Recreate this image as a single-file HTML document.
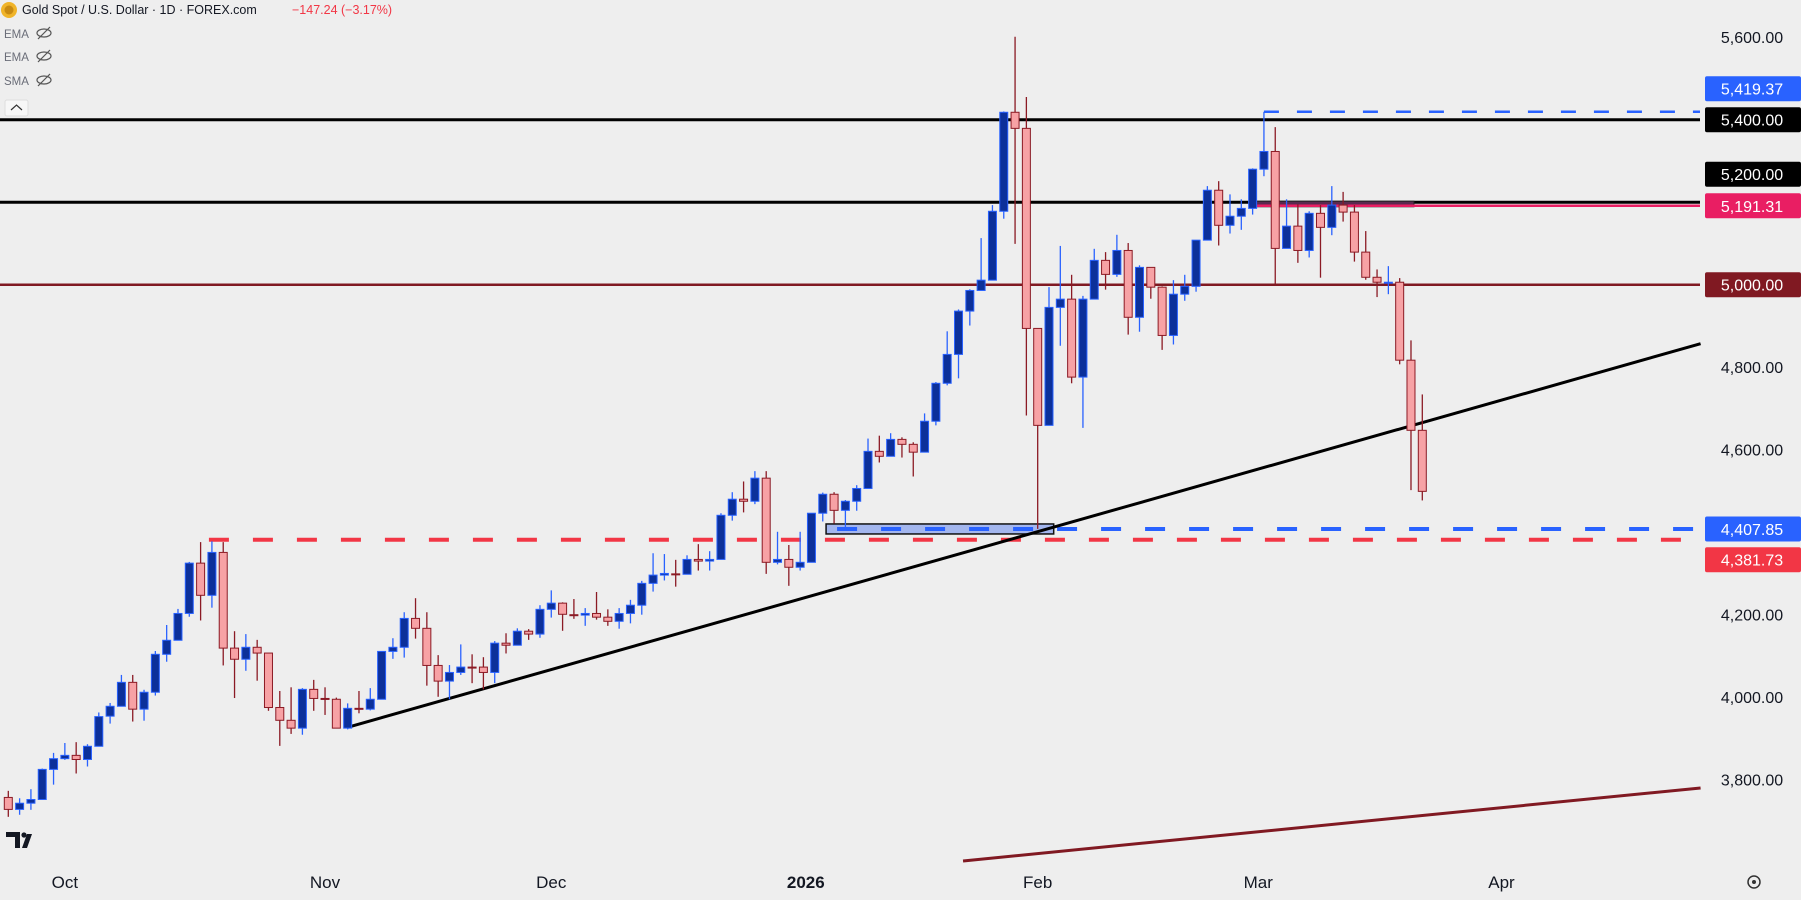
<!DOCTYPE html>
<html><head><meta charset="utf-8"><style>
html,body{margin:0;padding:0;background:#eeeeee;}
svg{display:block;font-family:"Liberation Sans",sans-serif;}
</style></head><body>
<svg id="chart" width="1801" height="900" viewBox="0 0 1801 900" xmlns="http://www.w3.org/2000/svg">
<rect x="0" y="0" width="1801" height="900" fill="#eeeeee"/>
<g id="levels"></g>
<g id="candles"></g>
<g id="axis"></g>
<g>
  <circle cx="9" cy="10" r="8" fill="#f0b429"/>
  <circle cx="9" cy="10" r="4.5" fill="#c88a12"/>
  <text x="22" y="14" font-size="12.5" fill="#131722">Gold Spot / U.S. Dollar · 1D · FOREX.com</text>
  <text x="292" y="14" font-size="12.5" fill="#f23645">−147.24 (−3.17%)</text>
  <text x="4" y="38" font-size="11.5" fill="#6a6d78">EMA</text>
  <text x="4" y="61" font-size="11.5" fill="#6a6d78">EMA</text>
  <text x="4" y="85" font-size="11.5" fill="#6a6d78">SMA</text>
  <g fill="none" stroke="#555" stroke-width="1.2">
    <g><ellipse cx="44" cy="33" rx="7" ry="4"/><line x1="38" y1="39" x2="50" y2="27"/></g>
    <g><ellipse cx="44" cy="56" rx="7" ry="4"/><line x1="38" y1="62" x2="50" y2="50"/></g>
    <g><ellipse cx="44" cy="80" rx="7" ry="4"/><line x1="38" y1="86" x2="50" y2="74"/></g>
  </g>
  <rect x="5" y="100" width="23" height="16" rx="2" fill="#f7f7f7" stroke="#ddd"/>
  <path d="M11 110 L16.5 105 L22 110" fill="none" stroke="#333" stroke-width="1.2"/>
</g>
<g>
  <path d="M6 832 H20 V848 H15 V837 H6 Z" fill="#131722"/>
  <circle cx="24" cy="835" r="2.6" fill="#131722"/>
  <path d="M22 848 L27 834 H32 L27 848 Z" fill="#131722"/>
</g>
<g>
  <circle cx="1754" cy="882" r="6" fill="none" stroke="#333" stroke-width="1.5"/>
  <circle cx="1754" cy="882" r="2" fill="#333"/>
</g>
</svg>
<script>
const opens=[3757,3728,3743,3752,3825,3851,3859,3849,3881,3954,3978,4036,3971,4012,4104,4138,4203,4325,4247,4351,4119,4092,4121,4107,3975,3944,3925,4019,3997,3995,3925,3973,3971,3995,4111,4121,4191,4167,4077,4039,4060,4073,4073,4060,4131,4126,4160,4153,4213,4228,4200,4199,4203,4194,4184,4203,4223,4276,4296,4299,4298,4334,4330,4334,4441,4480,4475,4531,4327,4334,4315,4327,4446,4492,4453,4475,4506,4596,4584,4625,4613,4594,4669,4761,4831,4936,4986,5011,5178,5418,5379,4894,4659,4945,4965,4776,4965,5059,5025,5083,4921,5042,4994,4877,4977,4996,5108,5229,5144,5166,5185,5280,5323,5088,5142,5083,5173,5139,5193,5176,5079,5018,5005,5006,4817,4647];
const highs=[3773,3755,3777,3827,3865,3889,3891,3886,3963,3986,4054,4054,4018,4112,4175,4214,4328,4376,4378,4376,4160,4153,4139,4107,4015,4024,4022,4042,4024,3999,3985,4015,4022,4111,4143,4206,4240,4206,4102,4078,4128,4104,4097,4136,4155,4167,4165,4223,4259,4230,4238,4216,4255,4213,4216,4236,4282,4349,4347,4333,4344,4371,4354,4446,4497,4523,4548,4548,4401,4369,4401,4446,4496,4497,4478,4514,4627,4634,4640,4630,4618,4688,4764,4887,4940,4989,5113,5193,5420,5601,5455,4894,4994,5094,5024,4973,5087,5079,5121,5101,5047,5042,4996,5011,5024,5108,5239,5251,5219,5207,5282,5419,5382,5207,5195,5178,5193,5239,5225,5193,5130,5037,5045,5016,4865,4734];
const lows=[3710,3715,3727,3752,3788,3848,3815,3832,3881,3936,3978,3941,3943,4004,4086,4138,4195,4186,4217,4077,3998,4064,4040,3967,3882,3911,3909,3967,3957,3925,3922,3961,3968,3995,4093,4096,4142,4028,4001,3995,4054,4034,4019,4034,4106,4126,4139,4144,4193,4161,4190,4173,4188,4173,4166,4179,4200,4256,4283,4268,4298,4307,4307,4334,4428,4448,4468,4299,4322,4270,4307,4327,4426,4421,4405,4452,4506,4569,4584,4581,4535,4594,4659,4756,4773,4901,4986,5011,5160,5099,4683,4408,4659,4852,4761,4653,4965,4988,5019,4879,4886,4966,4842,4855,4961,4983,5108,5095,5124,5133,5170,5263,5002,5088,5053,5066,5017,5120,5153,5056,5012,4970,4977,4807,4502,4477];
const closes=[3728,3743,3752,3825,3851,3859,3849,3881,3953,3978,4036,3971,4012,4104,4138,4203,4325,4247,4351,4119,4092,4121,4107,3975,3944,3925,4019,3997,3996,3925,3973,3971,3995,4111,4121,4191,4167,4077,4039,4060,4073,4072,4060,4131,4126,4160,4153,4213,4228,4201,4199,4203,4194,4184,4203,4223,4276,4296,4300,4298,4334,4330,4334,4441,4480,4475,4531,4327,4334,4315,4327,4446,4492,4453,4475,4506,4596,4584,4625,4613,4594,4669,4761,4831,4936,4986,5011,5178,5418,5379,4894,4659,4945,4965,4776,4965,5059,5025,5083,4921,5042,4994,4877,4977,4996,5108,5229,5144,5166,5185,5280,5323,5088,5142,5083,5173,5139,5193,5176,5079,5018,5006,5006,4817,4647,4499];
const priceTicks=[5600,5400,5200,5000,4800,4600,4400,4200,4000,3800];
const monthLabels=["Oct","Nov","Dec","2026","Feb","Mar","Apr"];
const monthIndex=[5,28,48,70.5,91,110.5,132];
const hLevels=[5400,5200,5000];
const hLevelColors=["#000000","#000000","#801922"];
const tagPrices=[5419.37,5400,5200,5191.31,5000,4407.85,4381.73];
const tagColors=["#2962ff","#000000","#000000","#e91e63","#801922","#2962ff","#f23645"];
const tagOffsets=[-23,0,-28,0,0,0,20];
const resLevel=5419.37, resStart=111;
const suppLevel=4407.85, suppStart=73;
const prevHigh=4381.73, prevHighStart=18;
const midLevel=5191.31, midStart=111;
const trendA=[30,3927], trendB=[149.6,4857];
const trend2A=[84.4,3603], trend2B=[149.6,3780];

const NS="http://www.w3.org/2000/svg";
function y(p){return 284.7-(p-5000)*0.4125;}
function x(i){return 8.3+11.312*i;}
const RIGHT=1700;
function mk(tag,attrs,parent){const e=document.createElementNS(NS,tag);for(const k in attrs)e.setAttribute(k,attrs[k]);parent.appendChild(e);return e;}
const lv=document.getElementById('levels');
hLevels.forEach((p,k)=>{
  const l=mk('line',{x1:0,x2:RIGHT,y1:y(p),y2:y(p),stroke:hLevelColors[k],'stroke-width':k==2?2.5:3},lv);
  
  
});
const zb=mk('rect',{x:x(midStart)-9,y:y(5200)-1,width:x(124)-x(midStart)+12,height:y(midLevel)-y(5200)+2,fill:'#5a2a50',stroke:'#222','stroke-width':1},lv);


const ml=mk('line',{x1:x(midStart)-9,x2:RIGHT,y1:y(midLevel),y2:y(midLevel),stroke:'#e91e63','stroke-width':2.5},lv);


const rd=mk('path',{d:`M${x(resStart)} ${y(resLevel)} H${RIGHT}`,fill:'none',stroke:'#2962ff','stroke-width':2.5,'stroke-dasharray':'15 18'},lv);


const pd=mk('line',{x1:x(prevHighStart)-3,x2:RIGHT,y1:y(prevHigh),y2:y(prevHigh),stroke:'#f23645','stroke-width':4,'stroke-dasharray':'20 24'},lv);


const sb=mk('rect',{x:x(suppStart)-8,y:y(suppLevel)-5,width:x(91)-x(suppStart)+24,height:10,fill:'#a3b6ee',stroke:'#111','stroke-width':1.5},lv);


const sd=mk('line',{x1:x(suppStart)+3,x2:RIGHT,y1:y(suppLevel),y2:y(suppLevel),stroke:'#2962ff','stroke-width':4,'stroke-dasharray':'20 24'},lv);


const t1=mk('line',{x1:x(trendA[0]),y1:y(trendA[1]),x2:x(trendB[0]),y2:y(trendB[1]),stroke:'#000','stroke-width':3},lv);


const t2=mk('line',{x1:x(trend2A[0]),y1:y(trend2A[1]),x2:x(trend2B[0]),y2:y(trend2B[1]),stroke:'#801922','stroke-width':3},lv);



const cg=document.getElementById('candles');
for(let i=0;i<opens.length;i++){
  const up=closes[i]>=opens[i];
  const cx=x(i);
  const g=mk('g',{},cg);
  
  
  mk('line',{x1:cx,x2:cx,y1:y(highs[i]),y2:y(lows[i]),stroke:up?'#2962ff':'#8b1a24','stroke-width':1.3},g);
  const top=y(Math.max(opens[i],closes[i])), bot=y(Math.min(opens[i],closes[i]));
  mk('rect',{x:cx-4,y:top,width:8,height:Math.max(bot-top,1),fill:up?'#0c309a':'#f7a2a5',stroke:up?'#2962ff':'#8b1a24','stroke-width':1},g);
}

const ax=document.getElementById('axis');
priceTicks.forEach(p=>{
  const t=mk('text',{x:1752,y:y(p)+6,'font-size':16,fill:'#131722','text-anchor':'middle'},ax);
  t.textContent=p.toLocaleString('en-US',{minimumFractionDigits:2});
  
  
});
tagPrices.forEach((p,k)=>{
  const cy=y(p)+tagOffsets[k];
  const r=mk('rect',{x:1705,y:cy-12.5,width:96,height:25,rx:2,fill:tagColors[k]},ax);
  
  
  const t=mk('text',{x:1752,y:cy+6,'font-size':16,fill:'#ffffff','text-anchor':'middle'},ax);
  t.textContent=p.toLocaleString('en-US',{minimumFractionDigits:2});
  
  
});
monthLabels.forEach((m,k)=>{
  const t=mk('text',{x:x(monthIndex[k]),y:888,'font-size':17,fill:'#131722','text-anchor':'middle','font-weight':m==='2026'?'bold':'normal'},ax);
  t.textContent=m;
  
  
});
</script>
</body></html>
